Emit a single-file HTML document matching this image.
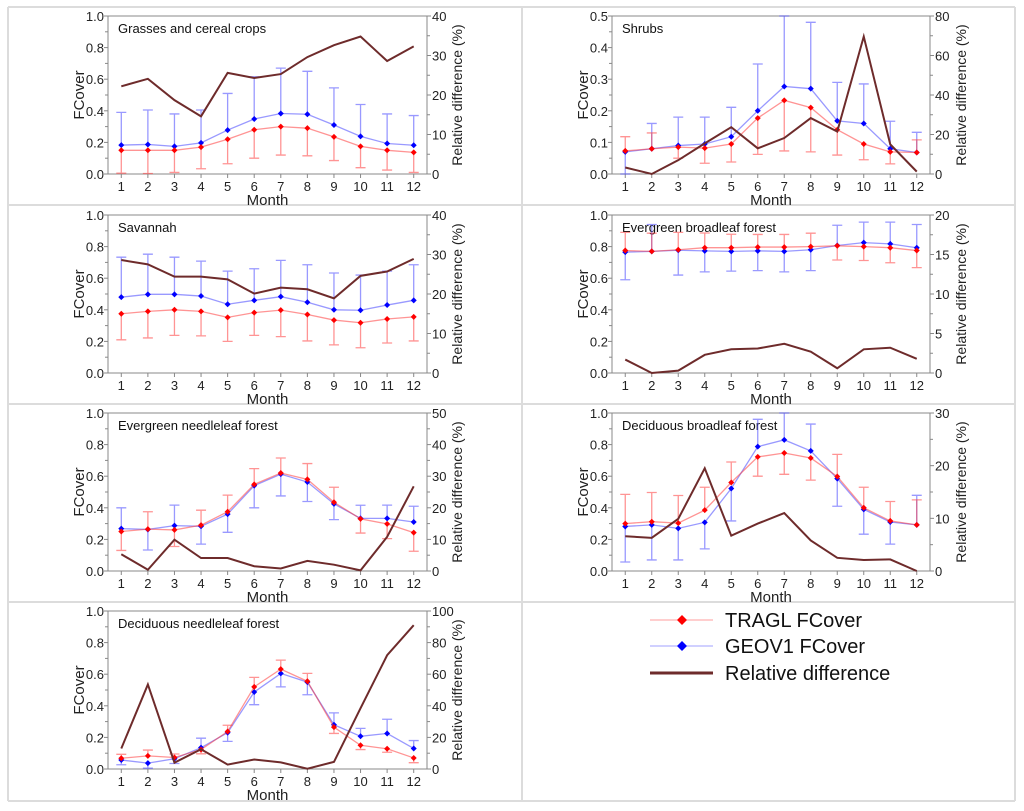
<!DOCTYPE html>
<html><head><meta charset="utf-8">
<style>
html,body{margin:0;padding:0;background:#fff;}
svg{display:block;font-family:"Liberation Sans",sans-serif;}
</style></head>
<body>
<svg id="chart" width="1024" height="811" viewBox="0 0 1024 811"></svg>
<script>
const months=[1,2,3,4,5,6,7,8,9,10,11,12];
const panelTitles=["Grasses and cereal crops","Shrubs","Savannah","Evergreen broadleaf forest","Evergreen needleleaf forest","Deciduous broadleaf forest","Deciduous needleleaf forest"];
const leftMax=[1.0,0.5,1.0,1.0,1.0,1.0,1.0];
const rightMax=[40,80,40,20,50,30,100];
const leftTicks=[["0.0","0.2","0.4","0.6","0.8","1.0"],["0.0","0.1","0.2","0.3","0.4","0.5"],["0.0","0.2","0.4","0.6","0.8","1.0"],["0.0","0.2","0.4","0.6","0.8","1.0"],["0.0","0.2","0.4","0.6","0.8","1.0"],["0.0","0.2","0.4","0.6","0.8","1.0"],["0.0","0.2","0.4","0.6","0.8","1.0"]];
const rightTicks=[[0,10,20,30,40],[0,20,40,60,80],[0,10,20,30,40],[0,5,10,15,20],[0,10,20,30,40,50],[0,10,20,30],[0,20,40,60,80,100]];

// Grasses
const grassT=[.15,.15,.15,.17,.22,.28,.30,.29,.235,.175,.15,.137];
const grassTs=[.145,.147,.14,.137,.155,.18,.18,.175,.15,.135,.125,.127];
const grassG=[.183,.187,.175,.197,.278,.348,.383,.378,.31,.238,.193,.182];
const grassGs=[.207,.218,.205,.208,.232,.267,.287,.272,.235,.202,.187,.188];
const grassR=[22.2,24.1,18.7,14.6,25.6,24.3,25.3,29.6,32.6,34.8,28.6,32.3];
// Shrubs
const shrubT=[.073,.08,.085,.082,.095,.177,.233,.21,.14,.095,.07,.068];
const shrubTs=[.045,.05,.035,.048,.057,.115,.16,.14,.08,.05,.038,.04];
const shrubG=[.07,.08,.09,.095,.118,.2,.277,.27,.168,.16,.08,.068];
const shrubGs=[.07,.08,.09,.085,.093,.148,.223,.21,.122,.125,.087,.064];
const shrubR=[3.3,0,7,15.5,23.7,13,18.2,28.3,21.5,69.6,15,1.2];
// Savannah
const savT=[.375,.39,.40,.39,.352,.382,.398,.37,.335,.318,.342,.355];
const savTs=[.165,.168,.162,.155,.152,.144,.168,.167,.157,.158,.152,.152];
const savG=[.48,.498,.498,.487,.435,.46,.483,.448,.40,.397,.43,.46];
const savGs=[.253,.254,.235,.221,.21,.2,.23,.237,.233,.223,.215,.225];
const savR=[28.6,27.5,24.4,24.4,23.7,20.1,21.6,21.2,18.9,24.6,25.7,28.9];
// Evergreen broadleaf
const ebfT=[.775,.77,.78,.793,.793,.797,.797,.80,.805,.80,.793,.775];
const ebfTs=[.115,.115,.11,.093,.085,.08,.08,.085,.09,.088,.095,.108];
const ebfG=[.765,.77,.777,.773,.77,.773,.77,.78,.807,.825,.817,.793];
const ebfGs=[.175,.17,.157,.133,.125,.125,.13,.132,.128,.13,.138,.147];
const ebfR=[1.7,0,0.3,2.3,3.0,3.1,3.7,2.7,0.6,3.0,3.2,1.8];
// Evergreen needleleaf
const enfT=[.25,.265,.26,.29,.375,.548,.62,.58,.435,.33,.298,.243];
const enfTs=[.12,.11,.105,.095,.105,.10,.095,.10,.095,.09,.093,.118];
const enfG=[.268,.263,.287,.283,.36,.54,.613,.563,.425,.333,.333,.31];
const enfGs=[.132,.13,.13,.113,.115,.14,.138,.123,.1,.083,.084,.1];
const enfR=[5.3,0.4,9.9,4.1,4.1,1.5,0.8,3.2,2,0.2,10.8,26.8];
// Deciduous broadleaf
const dbfT=[.30,.312,.303,.385,.56,.722,.747,.715,.598,.40,.317,.292];
const dbfTs=[.185,.185,.175,.145,.13,.122,.135,.14,.14,.13,.123,.158];
const dbfG=[.282,.292,.27,.308,.522,.787,.83,.76,.585,.39,.31,.292];
const dbfGs=[.225,.222,.2,.168,.205,.173,.17,.17,.175,.157,.14,.187];
const dbfR=[6.6,6.3,9.9,19.5,6.7,9,11,5.8,2.5,2.1,2.2,0];
// Deciduous needleleaf
const dnfT=[.068,.083,.073,.123,.237,.52,.632,.555,.265,.15,.128,.07];
const dnfTs=[.025,.037,.022,.027,.04,.06,.057,.05,.04,.027,.022,.03];
const dnfG=[.057,.037,.065,.135,.23,.487,.605,.55,.28,.207,.225,.13];
const dnfGs=[.03,.032,.03,.06,.055,.08,.085,.08,.075,.05,.09,.05];
const dnfR=[13,53.5,4,12.5,2.8,6,4.2,0.2,4.5,38.5,72,91];

const seriesT=[grassT,shrubT,savT,ebfT,enfT,dbfT,dnfT];
const seriesTs=[grassTs,shrubTs,savTs,ebfTs,enfTs,dbfTs,dnfTs];
const seriesG=[grassG,shrubG,savG,ebfG,enfG,dbfG,dnfG];
const seriesGs=[grassGs,shrubGs,savGs,ebfGs,enfGs,dbfGs,dnfGs];
const seriesR=[grassR,shrubR,savR,ebfR,enfR,dbfR,dnfR];

const NS="http://www.w3.org/2000/svg";
const svg=document.getElementById('chart');
function mk(tag,attrs,parent,text){const e=document.createElementNS(NS,tag);for(const k in attrs)e.setAttribute(k,attrs[k]);if(text!==undefined)e.textContent=text;(parent||svg).appendChild(e);return e;}

const gridCol="#dcdcdc";
[7,205,404,602,801].forEach(y=>{const l=mk('line',{x1:8,x2:1015,y1:y,y2:y,stroke:gridCol,'stroke-width':2});

});
[8,522,1015].forEach(x=>{const l=mk('line',{x1:x,x2:x,y1:7,y2:801,stroke:gridCol,'stroke-width':2});

});

const colX=[[108,427],[612,930]];
const rowY=[16,215,413,611];
const PH=158;

function drawPanel(i){
  const col=i%2,row=Math.floor(i/2);
  const xL=colX[col][0],xR=colX[col][1],yT=rowY[row],yB=yT+PH;
  const g=mk('g',{});
  
  
  const xs=m=>xL+(m-0.5)/12*(xR-xL);
  const yl=v=>yB-Math.max(0,Math.min(v,leftMax[i]))/leftMax[i]*PH;
  const yr=v=>yB-v/rightMax[i]*PH;
  const ax="#888";
  mk('rect',{x:xL,y:yT,width:xR-xL,height:PH,fill:'none',stroke:ax,'stroke-width':1},g);
  const lt=leftTicks[i];
  lt.forEach((t,k)=>{const y=yB-k/(lt.length-1)*PH;
    mk('line',{x1:xL-4,x2:xL,y1:y,y2:y,stroke:ax},g);
    if(k<lt.length-1){const ym=yB-(k+0.5)/(lt.length-1)*PH;mk('line',{x1:xL-3,x2:xL,y1:ym,y2:ym,stroke:ax},g);}
    const tx=mk('text',{x:xL-4,y:y+5,'text-anchor':'end','font-size':13,fill:'#222'},g,t);
    
    
  });
  const rt=rightTicks[i];
  const step=rt[1]-rt[0];
  rt.forEach(v=>{const y=yr(v);
    mk('line',{x1:xR,x2:xR+4,y1:y,y2:y,stroke:ax},g);
    if(v+step/2<=rightMax[i]){const ym=yr(v+step/2);mk('line',{x1:xR,x2:xR+3,y1:ym,y2:ym,stroke:ax},g);}
    const tx=mk('text',{x:xR+5,y:y+5,'text-anchor':'start','font-size':13,fill:'#222'},g,String(v));
    
    
  });
  months.forEach(m=>{const x=xs(m);
    mk('line',{x1:x,x2:x,y1:yB,y2:yB+4,stroke:ax},g);
    const tx=mk('text',{x:x,y:yB+17,'text-anchor':'middle','font-size':13,fill:'#222'},g,String(m));
    
    
  });
  let t=mk('text',{x:(xL+xR)/2,y:yB+31,'text-anchor':'middle','font-size':15,fill:'#222'},g,'Month');
  
  
  const fx=col===0?84:588;
  t=mk('text',{x:fx,y:(yT+yB)/2,'text-anchor':'middle','font-size':15,fill:'#222',transform:`rotate(-90 ${fx} ${(yT+yB)/2})`},g,'FCover');
  
  
  const rx=col===0?462:966;
  t=mk('text',{x:rx,y:(yT+yB)/2,'text-anchor':'middle','font-size':14,fill:'#222',transform:`rotate(-90 ${rx} ${(yT+yB)/2})`},g,'Relative difference (%)');
  
  
  t=mk('text',{x:xL+10,y:yT+17,'font-size':13,fill:'#111'},g,panelTitles[i]);
  
  
  const T=seriesT[i],G=seriesG[i];
  function series(vals,sds,other,color,light,name){
    months.forEach((m,k)=>{const x=xs(m),y0=yl(vals[k]);
      const up=vals[k]>=other[k];
      const y1=yl(up?vals[k]+sds[k]:vals[k]-sds[k]);
      const e=mk('path',{d:`M${x},${y0}V${y1}M${x-5},${y1}H${x+5}`,stroke:light,'stroke-width':1.3,fill:'none'},g);
      
      
    });
    const p=mk('polyline',{points:months.map((m,k)=>xs(m)+','+yl(vals[k])).join(' '),fill:'none',stroke:light,'stroke-width':1.3},g);
    
    
    months.forEach((m,k)=>{const x=xs(m),y=yl(vals[k]);
      const d=mk('path',{d:`M${x},${y-3}L${x+3},${y}L${x},${y+3}L${x-3},${y}Z`,fill:color},g);
      
      
    });
  }
  series(G,seriesGs[i],T,'#0000ff','rgba(70,70,255,0.55)','geov1');
  series(T,seriesTs[i],G,'#ff0000','rgba(255,60,60,0.55)','tragl');
  const r=mk('polyline',{points:months.map((m,k)=>xs(m)+','+yr(seriesR[i][k])).join(' '),fill:'none',stroke:'#6e2b2b','stroke-width':2},g);
  
  
}
for(let i=0;i<7;i++)drawPanel(i);

const lg=mk('g',{});


const legendItems=[["TRAGL FCover","#ff0000","rgba(255,60,60,0.5)",620],["GEOV1 FCover","#0000ff","rgba(70,70,255,0.5)",646]];
legendItems.forEach(it=>{
  const e=mk('g',{},lg);
  
  
  mk('line',{x1:650,x2:713,y1:it[3],y2:it[3],stroke:it[2],'stroke-width':1},e);
  mk('path',{d:`M682,${it[3]-5}L687,${it[3]}L682,${it[3]+5}L677,${it[3]}Z`,fill:it[1]},e);
  mk('text',{x:725,y:it[3]+7,'font-size':20,fill:'#111'},e,it[0]);
});
const e3=mk('g',{},lg);


mk('line',{x1:650,x2:713,y1:673,y2:673,stroke:'#6e2b2b','stroke-width':3},e3);
mk('text',{x:725,y:680,'font-size':20,fill:'#111'},e3,'Relative difference');
</script>
</body></html>
